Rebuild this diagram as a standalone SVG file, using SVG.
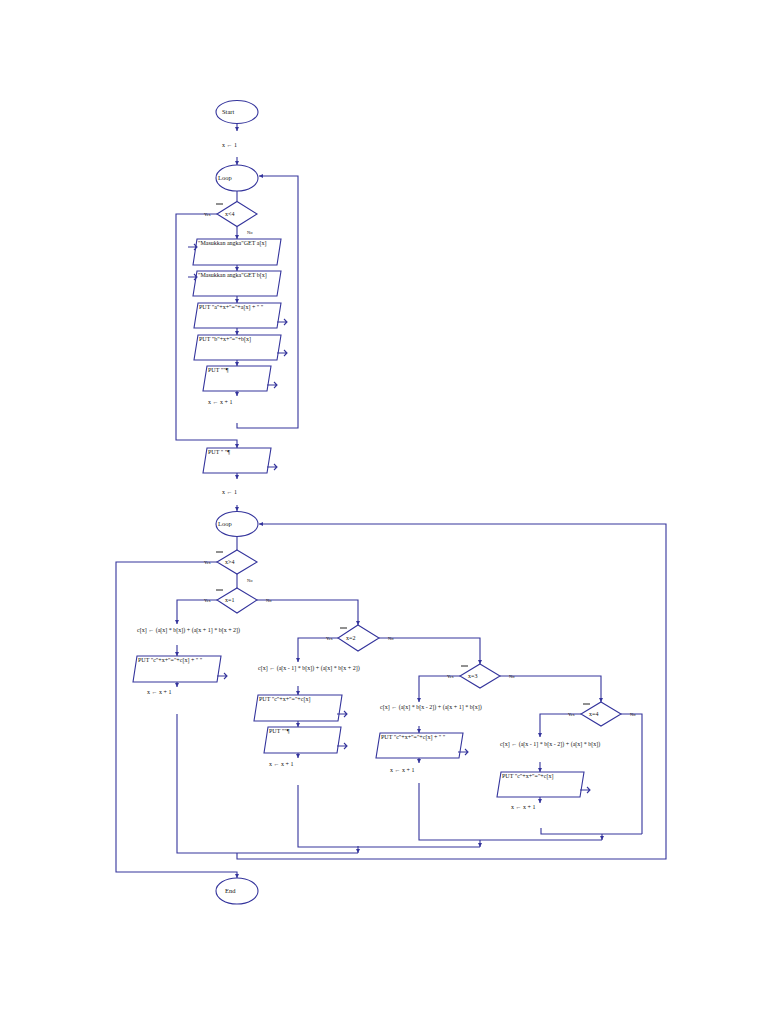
<svg xmlns="http://www.w3.org/2000/svg" width="768" height="1024" viewBox="0 0 768 1024">
<defs>
<marker id="ah" markerUnits="userSpaceOnUse" markerWidth="5" markerHeight="5" refX="4" refY="2" orient="auto"><path d="M0,0 L4,2 L0,4 z" fill="#34349c"/></marker>
<style>
.s{fill:none;stroke:#34349c;stroke-width:1.1}
.n{fill:#fff;stroke:#34349c;stroke-width:1.1}
.c{fill:none;stroke:#34349c;stroke-width:1.1;marker-end:url(#ah)}
.l{fill:none;stroke:#34349c;stroke-width:1.1}
.d{stroke:#222;stroke-width:1}
text{font-family:"Liberation Serif","DejaVu Serif","Times New Roman",serif;font-size:6px;fill:#111}
.t{font-size:6.5px}
.y{font-size:4.5px}
</style>
</defs>
<rect width="768" height="1024" fill="#fff"/>

<g id="connectors">
<path class="c" d="M237,123.5 V131"/>
<path class="c" d="M237,157 V165"/>
<path class="l" d="M237,191 V201.5"/>
<path class="c" d="M217,214 H176 V440 H237 V448"/>
<path class="c" d="M237,226.5 V239"/>
<path class="c" d="M237,265 V271"/>
<path class="c" d="M237,296 V303"/>
<path class="c" d="M237,328 V335"/>
<path class="c" d="M237,360 V366"/>
<path class="c" d="M237,391 V396"/>
<path class="c" d="M237,423 V428 H298 V176 H259"/>
<path class="c" d="M237,473 V479"/>
<path class="c" d="M237,505 V511"/>
<path class="l" d="M237,537 V550"/>
<path class="c" d="M217,562 H116 V872 H237 V878"/>
<path class="l" d="M237,574 V588"/>
<path class="c" d="M217,600 H177 V624"/>
<path class="c" d="M257,600 H358 V625"/>
<path class="c" d="M177,645 V656"/>
<path class="c" d="M177,682 V687"/>
<path class="l" d="M177,714 V853 H358"/>
<path class="c" d="M338,638 H298 V662"/>
<path class="c" d="M379,638 H480 V664"/>
<path class="c" d="M298,686 V695"/>
<path class="c" d="M298,721 V727"/>
<path class="c" d="M298,753 V758"/>
<path class="l" d="M298,785 V847 H480"/>
<path class="c" d="M460,676 H419 V702"/>
<path class="c" d="M500,676 H601 V702"/>
<path class="c" d="M419,726 V733"/>
<path class="c" d="M419,758 V763"/>
<path class="l" d="M419,783 V840 H602"/>
<path class="c" d="M581,714 H540 V737"/>
<path class="l" d="M621,714 H642 V834"/>
<path class="c" d="M540,762 V772"/>
<path class="c" d="M540,797 V803"/>
<path class="l" d="M541,828 V834 H642"/>
<path class="c" d="M602,834 V840"/>
<path class="c" d="M480,840 V847"/>
<path class="c" d="M358,846 V853"/>
<path class="c" d="M237,853 V859 H666 V524 H259"/>
</g>

<g id="start"><ellipse class="n" cx="237" cy="112" rx="21" ry="11.5"/><text class="t" x="222" y="114">Start</text></g>
<g id="assign1"><text x="222" y="147">x ← 1</text></g>
<g id="loop1"><ellipse class="n" cx="237" cy="178" rx="21" ry="13"/><text class="t" x="218" y="180">Loop</text></g>
<g id="cond1"><path class="n" d="M237,201.5 L257,214 L237,226.5 L217,214 z"/><text x="225" y="216">x&lt;4</text><line class="d" x1="216" y1="204" x2="223" y2="204"/><text class="y" x="204" y="216">Yes</text><text class="y" x="247" y="234">No</text></g>
<g id="in1"><path class="n" d="M197,239 H281 L277,265 H193 z"/><text x="198" y="245">"Masukkan angka"GET a[x]</text><path class="s" d="M188,247 H197 M194,244 L197,247 L194,250"/></g>
<g id="in2"><path class="n" d="M197,271 H281 L277,296 H193 z"/><text x="198" y="277">"Masukkan angka"GET b[x]</text><path class="s" d="M188,277 H197 M194,274 L197,277 L194,280"/></g>
<g id="out1"><path class="n" d="M198,303 H281 L277,328 H194 z"/><text x="199" y="309">PUT "a"+x+"="+a[x] + " "</text><path class="s" d="M277,322 H287 M284,319 L287,322 L284,325"/></g>
<g id="out2"><path class="n" d="M198,335 H281 L277,360 H194 z"/><text x="199" y="341">PUT "b"+x+"="+b[x]</text><path class="s" d="M277,353 H287 M284,350 L287,353 L284,356"/></g>
<g id="out3"><path class="n" d="M207,366 H271 L267,391 H203 z"/><text x="208" y="372">PUT ""¶</text><path class="s" d="M267,385 H277 M274,382 L277,385 L274,388"/></g>
<g id="assign2"><text x="208" y="404">x ← x + 1</text></g>
<g id="out4"><path class="n" d="M207,448 H271 L267,473 H203 z"/><text x="208" y="454">PUT " "¶</text><path class="s" d="M267,467 H277 M274,464 L277,467 L274,470"/></g>
<g id="assign3"><text x="222" y="494">x ← 1</text></g>
<g id="loop2"><ellipse class="n" cx="237" cy="524" rx="21" ry="12.5"/><text class="t" x="218" y="526">Loop</text></g>
<g id="cond2"><path class="n" d="M237,550 L257,562 L237,574 L217,562 z"/><text x="225" y="564">x&gt;4</text><line class="d" x1="216" y1="552" x2="223" y2="552"/><text class="y" x="204" y="564">Yes</text><text class="y" x="247" y="582">No</text></g>
<g id="cond3"><path class="n" d="M237,588 L257,600 L237,613 L217,600 z"/><text x="225" y="602">x=1</text><line class="d" x1="216" y1="590" x2="223" y2="590"/><text class="y" x="204" y="602">Yes</text><text class="y" x="266" y="602">No</text></g>
<g id="calc1"><text x="137" y="632">c[x] ← (a[x] * b[x]) + (a[x + 1] * b[x + 2])</text></g>
<g id="out5"><path class="n" d="M137,656 H221 L217,682 H133 z"/><text x="138" y="662">PUT "c"+x+"="+c[x] + " "</text><path class="s" d="M217,676 H227 M224,673 L227,676 L224,679"/></g>
<g id="assign4"><text x="147" y="694">x ← x + 1</text></g>
<g id="cond4"><path class="n" d="M358,625 L379,638 L358,651 L338,638 z"/><text x="346" y="640">x=2</text><line class="d" x1="340" y1="628" x2="347" y2="628"/><text class="y" x="326" y="640">Yes</text><text class="y" x="388" y="640">No</text></g>
<g id="calc2"><text x="258" y="670">c[x] ← (a[x - 1] * b[x]) + (a[x] * b[x + 2])</text></g>
<g id="out6"><path class="n" d="M258,695 H342 L338,721 H254 z"/><text x="259" y="701">PUT "c"+x+"="+c[x]</text><path class="s" d="M337,714 H347 M344,711 L347,714 L344,717"/></g>
<g id="out7"><path class="n" d="M268,727 H341 L337,753 H264 z"/><text x="269" y="733">PUT ""¶</text><path class="s" d="M337,746 H347 M344,743 L347,746 L344,749"/></g>
<g id="assign5"><text x="269" y="766">x ← x + 1</text></g>
<g id="cond5"><path class="n" d="M480,664 L500,676 L480,688 L460,676 z"/><text x="468" y="678">x=3</text><line class="d" x1="461" y1="666" x2="468" y2="666"/><text class="y" x="447" y="678">Yes</text><text class="y" x="509" y="678">No</text></g>
<g id="calc3"><text x="380" y="709">c[x] ← (a[x] * b[x - 2]) + (a[x + 1] * b[x])</text></g>
<g id="out8"><path class="n" d="M380,733 H463 L459,758 H376 z"/><text x="381" y="739">PUT "c"+x+"="+c[x] + " "</text><path class="s" d="M458,752 H468 M465,749 L468,752 L465,755"/></g>
<g id="assign6"><text x="390" y="772">x ← x + 1</text></g>
<g id="cond6"><path class="n" d="M601,702 L621,714 L601,726 L581,714 z"/><text x="589" y="716">x=4</text><line class="d" x1="583" y1="704" x2="590" y2="704"/><text class="y" x="568" y="716">Yes</text><text class="y" x="630" y="716">No</text></g>
<g id="calc4"><text x="500" y="746">c[x] ← (a[x - 1] * b[x - 2]) + (a[x] * b[x])</text></g>
<g id="out9"><path class="n" d="M501,772 H584 L580,797 H497 z"/><text x="502" y="778">PUT "c"+x+"="+c[x]</text><path class="s" d="M580,790 H590 M587,787 L590,790 L587,793"/></g>
<g id="assign7"><text x="511" y="809">x ← x + 1</text></g>
<g id="end"><ellipse class="n" cx="237" cy="891" rx="21" ry="13"/><text class="t" x="225" y="893">End</text></g>
</svg>
